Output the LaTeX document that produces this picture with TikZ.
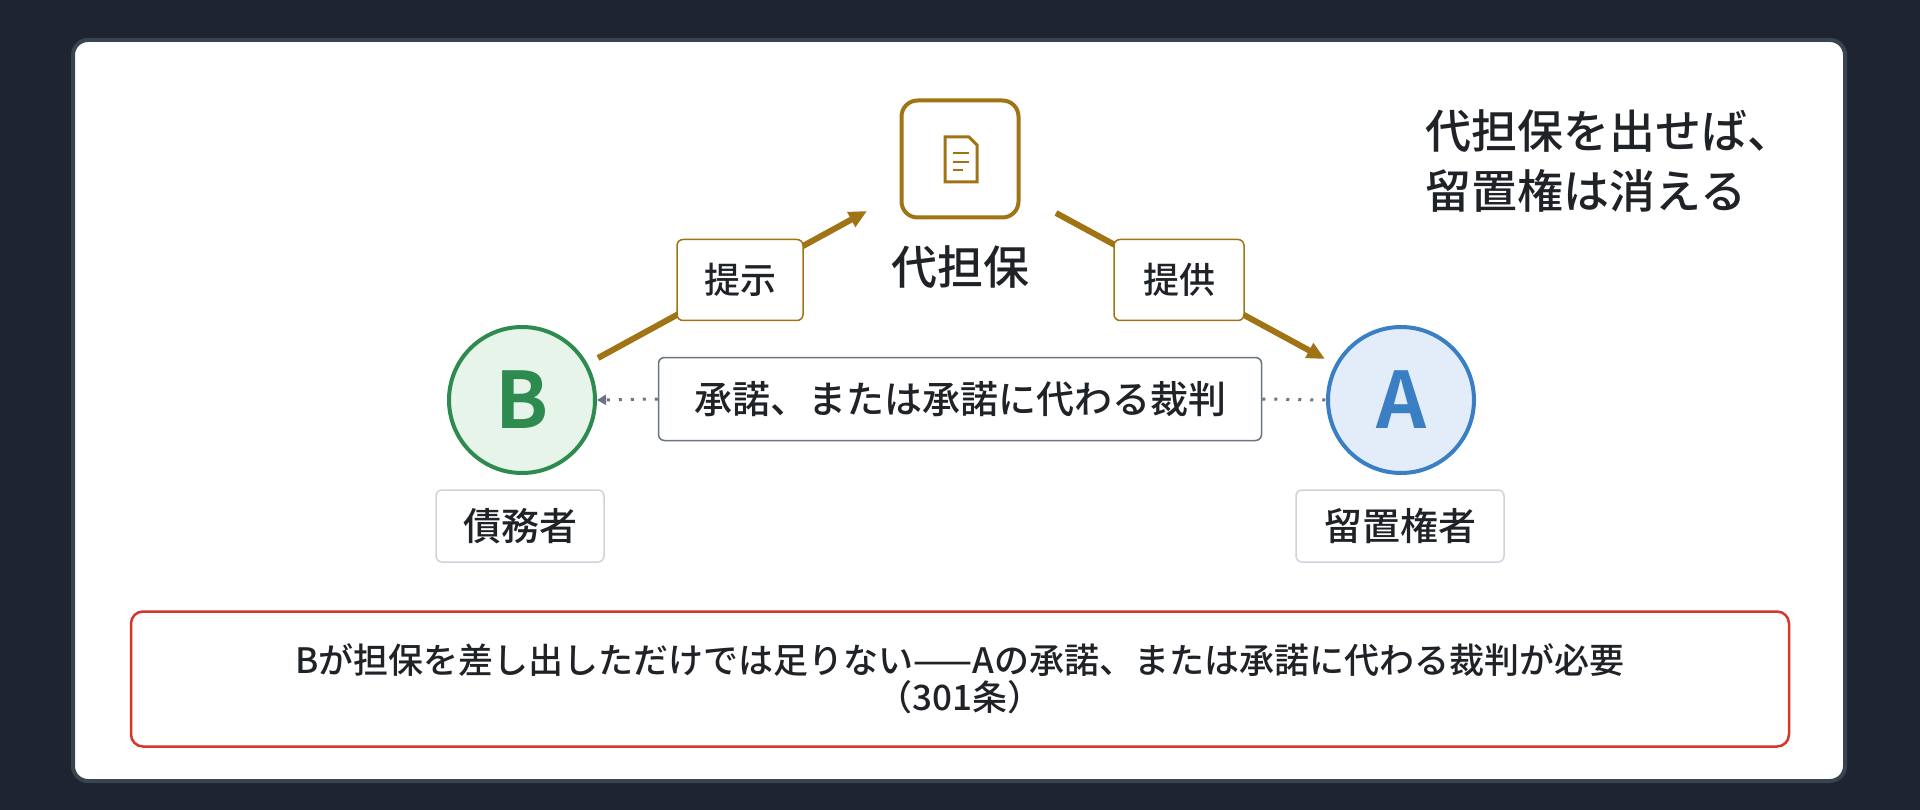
\documentclass[tikz,border=0pt]{standalone}
\usepackage{fontspec}
\setmainfont{Noto Sans CJK JP}[UprightFont=* Medium,BoldFont=* Bold]
\usetikzlibrary{arrows.meta,positioning}
\definecolor{bgdark}{HTML}{1E2530}
\definecolor{cardline}{HTML}{3A4350}
\definecolor{txt}{HTML}{1F2328}
\definecolor{gold}{HTML}{A07414}
\definecolor{grn}{HTML}{2E8B4F}
\definecolor{grnfill}{HTML}{E6F4EA}
\definecolor{blu}{HTML}{3A7FC4}
\definecolor{blufill}{HTML}{E3EDF9}
\definecolor{gry}{HTML}{6B7280}
\definecolor{lgry}{HTML}{CDD3DB}
\definecolor{redl}{HTML}{D0392B}
\tikzset{
  fs/.style={font=\fontsize{#1}{#1}\selectfont},
  tag/.style={draw=#1,fill=white,rounded corners=6,line width=1.5,text=txt,inner sep=0},
  person/.style={circle,draw=#1,line width=4,minimum size=146,inner sep=0,text=#1,font=\fontsize{78}{78}\selectfont\bfseries},
  give/.style={draw=gold,line width=6,-{Triangle[length=18,width=16]}},
}
\begin{document}
\begin{tikzpicture}[x=1pt,y=-1pt]
\fill[bgdark] (0,0) rectangle (1920,810);
\draw[cardline,line width=4,fill=white,rounded corners=15] (73,40) rectangle (1845,781);

% document icon
\node[draw=gold,line width=4,rounded corners=16,minimum size=117,inner sep=0] (doc) at (960,159) {};
\draw[gold,line width=3,line join=miter] (945,137) -- (969,137) -- (977,145) -- (977,182) -- (945,182) -- cycle;
\foreach \y/\e in {153/969,162/969,170/963}
  \draw[gold,line width=2.5] (953,\y) -- (\e,\y);
\node[fs=46,text=txt] (doclbl) at (960,267) {代担保};

% persons
\node[person=grn,fill=grnfill] (nodeB) at (522,400) {B};
\node[person=blu,fill=blufill] (nodeA) at (1401,400) {A};
\node[tag=lgry,minimum width=168,minimum height=72,fs=38] (lblB) at (520,526) {債務者};
\node[tag=lgry,minimum width=208,minimum height=72,fs=38] (lblA) at (1400,526) {留置権者};

% offers
\coordinate (s1) at (598,358);
\coordinate (e1) at (867,211);
\coordinate (s2) at (1056,213);
\coordinate (e2) at (1325,359);
\draw[give] (s1) -- (e1);
\draw[give] (s2) -- (e2);
\node[tag=gold,minimum width=126,minimum height=81,fs=36] (show) at (740,280) {提示};
\node[tag=gold,minimum width=130,minimum height=81,fs=36] (offer) at (1179,280) {提供};

% consent
\node[tag=gry,minimum width=603,minimum height=83,fs=38] (consent) at (960,399) {承諾、または承諾に代わる裁判};
\draw[gry,line width=3,dash pattern=on 3 off 9,-{Triangle[length=9,width=10]}] (consent.west) -- (nodeB.east);
\draw[gry,line width=3,dash pattern=on 3 off 9] (consent.east) -- (nodeA.west);

% title
\node[fs=46,text=txt,anchor=west,align=left] (title) at (1422,161) {代担保を出せば、\\[14pt]留置権は消える};

% note
\node[draw=redl,line width=2.5,rounded corners=12,minimum width=1658,minimum height=135,fs=35,text=txt,align=center] (note) at (960,679)
  {Bが担保を差し出しただけでは足りない——Aの承諾、または承諾に代わる裁判が必要\\[2pt]（301条）};
\end{tikzpicture}
\end{document}
